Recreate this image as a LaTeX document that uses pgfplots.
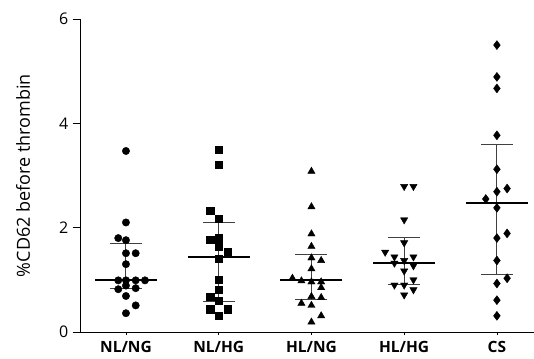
\documentclass[border=0pt]{standalone}
\usepackage{pgfplots}
\pgfplotsset{compat=1.18}
\usepackage{pgfplotstable}
\usepackage{fontspec}
\setmainfont{Open Sans}

\pgfplotstableread{
x y
0 3.47
0 2.10
-0.083 1.80
0 1.76
0 1.51
0.105 1.51
0 1.30
-0.083 0.99
0 0.99
0.105 0.99
0.205 0.99
-0.083 0.82
0 0.89
0.105 0.84
0 0.69
0.105 0.51
0 0.36
}\nlng
\pgfplotstableread{
x y
1 3.50
1 3.21
0.91 2.33
1 2.17
0.91 1.77
1 1.80
1 1.64
1.097 1.54
1 1.40
1 1.00
1 0.81
0.91 0.68
1 0.60
0.91 0.44
1.097 0.44
1 0.31
}\nlhg
\pgfplotstableread{
x y
2 3.08
2 2.40
2 1.88
2 1.64
2 1.42
2.105 1.37
2 1.21
1.795 1.03
1.892 0.98
2 0.96
2.105 0.96
2.105 0.85
2 0.68
2.105 0.66
1.892 0.55
2 0.51
2.105 0.31
2 0.19
}\hlng
\pgfplotstableread{
x y
3 2.79
3.1 2.79
3 2.15
3 1.71
2.795 1.53
2.895 1.44
3 1.37
3.1 1.44
2.895 1.32
3.1 1.27
3 1.17
2.895 0.90
3 0.90
3.1 1.00
3.1 0.81
3 0.71
}\hlhg
\pgfplotstableread{
x y
4 5.50
4 4.89
4 4.67
4 3.77
4 3.12
4 2.69
4.11 2.75
3.88 2.55
4 2.38
4.11 1.89
4 1.80
4 1.37
4.11 1.03
4 0.93
4 0.61
4 0.31
}\cs
\pgfplotstableread{
x med ep em
0 0.99 0.70 0.16
1 1.44 0.66 0.86
2 0.99 0.49 0.36
3 1.32 0.49 0.40
4 2.48 1.12 1.37
}\stats

\begin{document}
\begin{tikzpicture}
\path[use as bounding box] (-80.7pt,-26pt) rectangle (453.3pt,332pt);
\begin{axis}[
  at={(0pt,0pt)}, anchor=south west,
  scale only axis,
  width=453.3pt, height=313pt,
  xmin=-0.488, xmax=4.40,
  ymin=0, ymax=6,
  axis lines*=left,
  axis line style={line width=0.8pt},
  xtick={0,1,2,3,4},
  xticklabels={NL/NG,NL/HG,HL/NG,HL/HG,CS},
  xticklabel style={font=\fontsize{15.5}{17}\selectfont\bfseries, yshift=2pt},
  ytick={0,2,4,6},
  yticklabel style={font=\fontsize{16}{18}\selectfont, xshift=-1pt},
  /pgf/number format/assume math mode=true,
  tick align=outside,
  tick style={black, line width=0.8pt},
  major tick length=8pt,
  x tick style={/pgfplots/major tick length=3pt},
  ylabel={\%CD62 before thrombin},
  ylabel style={font=\fontsize{18}{20}\selectfont, at={(axis description cs:-0.127,0.5)}, anchor=center},
  clip=false,
]
\addplot[only marks, mark=*, mark size=3.7pt, black] table[x=x,y=y] {\nlng};
\addplot[only marks, mark=square*, mark size=3.7pt, black] table[x=x,y=y] {\nlhg};
\addplot[only marks, mark=triangle*, mark size=4.2pt, black] table[x=x,y=y] {\hlng};
\addplot[only marks, mark=triangle*, mark size=4.2pt, black, mark options={rotate=180}] table[x=x,y=y] {\hlhg};
\addplot[only marks, mark=diamond*, mark size=4.5pt, black] table[x=x,y=y] {\cs};
\addplot[draw=none, mark=none,
  error bars/.cd, y dir=both, y explicit,
  error bar style={line width=1pt, black!75},
  error mark options={rotate=90, mark size=16pt, line width=1pt, black!75}]
  table[x=x, y=med, y error plus=ep, y error minus=em] {\stats};
\addplot[only marks, mark=-, mark size=31pt, mark options={line width=2pt, black}] table[x=x, y=med] {\stats};
\end{axis}
\end{tikzpicture}
\end{document}
